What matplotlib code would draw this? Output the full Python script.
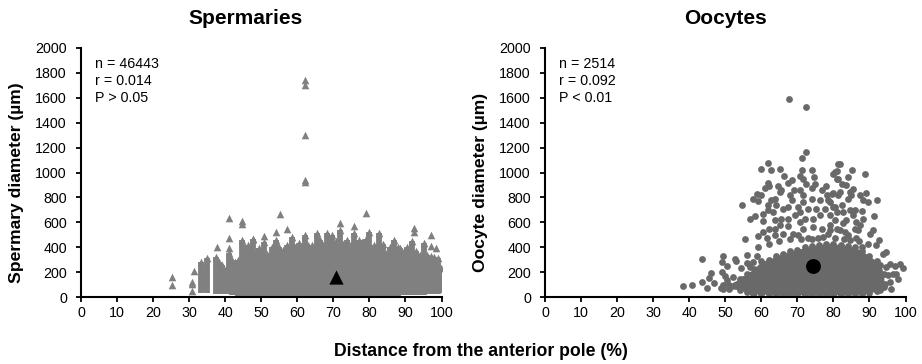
import matplotlib
matplotlib.use('Agg')
import matplotlib.pyplot as plt

plt.rcParams['font.family'] = ['Liberation Sans', 'DejaVu Sans']

# spermaries: dense columns of triangles
column_x = [33.2, 34, 34.9, 37.4, 38.2, 39, 40.2, 41.1, 42, 42.8, 43.6, 44.6, 45.4, 46.3, 47, 47.7, 48.6,
            49.5, 50.8, 51.5, 52.2, 53, 54.2, 55, 56, 57.1, 58.5, 59.4, 60.4, 61.3, 62.2, 63, 64, 65.5, 66.4,
            67.2, 68.2, 69, 69.6, 70.7, 71.9, 72.8, 73.8, 74.8, 75.8, 77, 78, 79, 79.8, 81.2, 82, 82.8, 83.8,
            84.9, 85.8, 86.9, 87.8, 88.6, 89.5, 90.5, 91.8, 93, 94, 95.1, 96, 97, 98, 99, 99.9]
column_top = [285, 230, 312, 320, 280, 260, 230, 355, 300, 285, 300, 460, 400, 420, 380, 465, 360,
              395, 445, 350, 299, 400, 460, 400, 380, 420, 486, 400, 433, 400, 499, 420, 420, 513, 459,
              420, 513, 440, 499, 450, 540, 430, 459, 420, 513, 459, 440, 470, 526, 419, 380, 513, 430,
              365, 400, 459, 400, 393, 370, 405, 453, 370, 340, 433, 340, 330, 320, 312, 232]
column_low = [35, 40, 35, 30, 25, 25, 25, 25, 15, 15, 10, 10, 10, 10, 10, 10, 10,
              10, 10, 10, 10, 10, 10, 10, 10, 10, 10, 10, 10, 10, 10, 10, 10, 10, 10,
              10, 10, 10, 10, 10, 10, 10, 10, 10, 10, 10, 10, 10, 10, 10, 10, 10, 10,
              10, 10, 10, 10, 15, 15, 15, 15, 15, 20, 20, 30, 30, 30, 30, 35]
sperm_x = [25.2, 25.2, 30.8, 30.8, 30.8, 31.4, 37.7, 41.1, 41.1, 41.1, 44.6, 44.6, 47.7, 50.8, 54.2, 55.2, 57.1,
           62.2, 62.2, 62.2, 62.2, 62.2, 71.9, 75.8, 79, 92.5, 92.5, 97, 97, 98.5]
sperm_y = [160, 96, 125, 110, 50, 213, 405, 638, 475, 395, 615, 590, 465, 490, 526, 667, 547,
           925, 940, 1300, 1700, 1740, 593, 571, 678, 553, 526, 499, 411, 393]
sperm_mean_x = [70.6]
sperm_mean_y = [163]

# oocytes: dense core outline
core_x = [51, 54, 56, 58, 60, 62, 64, 66, 68, 70, 72, 74, 76, 78, 80, 82, 84, 86, 88, 90, 92, 93, 94]
core_top = [100, 150, 190, 230, 290, 300, 330, 350, 370, 380, 400, 410, 420, 430, 430, 420, 410, 400, 370, 330, 290, 260, 190]
core_low = [70, 60, 40, 35, 25, 25, 20, 20, 20, 20, 20, 20, 20, 20, 20, 20, 25, 25, 30, 35, 50, 60, 80]

oocyte_x = [38.2, 40.8, 43.5, 43.5, 44.8, 45.4, 46.0, 46.9, 49.4, 49.1, 50.4, 49.2, 49.9, 48.8, 49.4, 50.5,
            52.7, 53, 55.9, 58.7, 54.3, 55.9, 57.7, 56.8, 52.2, 50.4, 54.1, 51.3, 49.4, 52.7, 55, 55, 57.6,
            98.6, 99.3, 97.1, 95.6, 94.7, 96.6, 98, 97.3, 95.2, 95.6, 96.1, 92.9, 94.3, 93.8, 94.7, 92.7, 91.8,
            89.6, 90.1, 91, 91.2, 92.1, 88.7, 81.8, 80.9, 79.9, 81.3, 84.1, 85.2, 82.5, 83.6, 85.5, 81.8, 84.6,
            81.3, 84.1, 85, 89, 87.5, 88.2, 89.6, 79.5, 79, 79.9, 82.5, 80.9, 82.7, 84.6, 86, 87.8, 85.5, 80.4,
            83.6, 82.7, 86.4, 88.1, 87.3, 85.9, 86.9, 81.8, 83.2, 84.1, 80.4, 84.6, 86.2, 79, 87.8,
            72.5, 71.3, 61.9, 59.8, 62.8, 65.3, 71.3, 74, 66.3, 70.7, 71.6, 74.7, 81.3, 80.4, 80.9, 68.4, 67.5,
            61.9, 61, 62.2, 64.7, 65.6, 72.5, 74.9, 74, 77.9, 76.7, 70.7, 69, 67.9, 65.2, 58.7, 59.8, 57.6, 59.1,
            54.7, 71.6, 78.1, 79.9, 62.8, 63.8, 61.9, 64.2, 61.9, 60.5, 58.2, 56.8, 60.5, 63.3, 67.5, 66.1, 68.4,
            70.2, 71.6, 74, 76.2, 78.5, 70.7, 73, 75.3, 77.6, 80.4, 79, 76.2, 74.4, 72.1, 69.3, 67.5, 65.6, 63.8,
            65.2, 67.5, 70.7, 71.6, 74.4, 76.7, 79, 80.9, 63.8, 62.2, 60.5, 59.1, 55.6, 66.1, 63.8, 68.8, 70.2,
            73, 75.8, 78.5, 61.5, 67.6, 72.5, 59, 62, 65, 68, 71, 74, 77, 83, 87]
oocyte_y = [88, 96, 304, 122, 78, 158, 194, 114, 330, 286, 248, 203, 168, 72, 96, 110,
            310, 290, 336, 330, 235, 272, 283, 242, 163, 136, 96, 82, 70, 96, 150, 85, 24,
            270, 235, 250, 270, 243, 190, 150, 184, 176, 122, 70, 82, 110, 350, 363, 456, 416,
            430, 510, 536, 649, 782, 990, 1070, 1012, 990, 950, 964, 1017, 910, 897, 870, 843, 843,
            816, 790, 816, 835, 816, 777, 763, 830, 763, 723, 737, 683, 683, 697, 702, 691, 657, 617,
            617, 595, 603, 630, 577, 550, 536, 536, 523, 497, 478, 456, 478, 536, 403,
            1164, 1119, 1076, 1031, 1017, 1025, 1017, 1017, 972, 969, 950, 964, 1070, 1004, 950, 937, 915,
            915, 878, 889, 891, 862, 910, 910, 878, 889, 862, 857, 857, 816, 843, 825, 816, 790, 771,
            737, 823, 817, 835, 777, 790, 737, 737, 702, 670, 649, 630, 611, 683, 723, 710, 777,
            723, 763, 790, 777, 777, 683, 710, 710, 710, 723, 657, 657, 630, 630, 657, 630, 630, 617,
            577, 569, 603, 550, 563, 550, 577, 550, 550, 545, 523, 491, 470, 510, 497, 510, 497,
            478, 478, 510, 478, 1588, 1524, 400, 430, 450, 470, 470, 470, 480, 470, 450]
oocyte_mean_x = [74.4]
oocyte_mean_y = [248]

x_ticks = list(range(0, 101, 10))
y_ticks = list(range(0, 2001, 200))


def setup_axes(ax, ylabel):
    ax.set_xlim(0, 100)
    ax.set_ylim(0, 2000)
    ax.set_xticks(x_ticks)
    ax.set_yticks(y_ticks)
    ax.tick_params(labelsize=10.3, length=3.6, width=1.3)
    ax.tick_params(axis='y', pad=6.5)
    ax.tick_params(axis='x', pad=3)
    ax.spines['top'].set_visible(False)
    ax.spines['right'].set_visible(False)
    ax.spines['left'].set_linewidth(1.5)
    ax.spines['bottom'].set_linewidth(1.5)
    ax.set_ylabel(ylabel, fontsize=12.6, fontweight='bold')
    ax.yaxis.set_label_coords(-0.157, 0.459)


fig = plt.figure(figsize=(9.22, 3.64), dpi=100)
ax1 = fig.add_axes([81 / 922, 1 - 297.3 / 364, 360.5 / 922, 249.6 / 364])
ax2 = fig.add_axes([545 / 922, 1 - 297.3 / 364, 360.5 / 922, 249.6 / 364])

grey1 = '#808080'
grey2 = '#696969'

# left panel
ax1.vlines(column_x, column_low, column_top, color=grey1, lw=4.2, zorder=2)
ax1.scatter(column_x, column_top, marker='^', s=30, color=grey1, linewidths=0, zorder=2)
ax1.scatter(sperm_x, sperm_y, marker='^', s=30, color=grey1, linewidths=0, zorder=2)
ax1.scatter(sperm_mean_x, sperm_mean_y, marker='^', s=105, color='black', linewidths=0, zorder=3)
setup_axes(ax1, 'Spermary diameter (µm)')
ax1.text(3.9, 1869, 'n = 46443', fontsize=10.3, va='center')
ax1.text(3.9, 1733, 'r = 0.014', fontsize=10.3, va='center')
ax1.text(3.9, 1597, 'P > 0.05', fontsize=10.3, va='center')

# right panel
ax2.fill_between(core_x, core_low, core_top, color=grey2, lw=0, zorder=2)
ax2.scatter(core_x, core_top, s=24, color=grey2, linewidths=0, zorder=2)
ax2.scatter(core_x, core_low, s=24, color=grey2, linewidths=0, zorder=2)
ax2.scatter(oocyte_x, oocyte_y, s=24, color=grey2, linewidths=0, zorder=2)
ax2.scatter(oocyte_mean_x, oocyte_mean_y, s=115, color='black', linewidths=0, zorder=3)
setup_axes(ax2, 'Oocyte diameter (µm)')
ax2.text(3.9, 1869, 'n = 2514', fontsize=10.3, va='center')
ax2.text(3.9, 1733, 'r = 0.092', fontsize=10.3, va='center')
ax2.text(3.9, 1597, 'P < 0.01', fontsize=10.3, va='center')

fig.text(246 / 922, 1 - 19 / 364, 'Spermaries', fontsize=15, fontweight='bold', ha='center', va='center')
fig.text(725 / 922, 1 - 19 / 364, 'Oocytes', fontsize=15, fontweight='bold', ha='center', va='center')
fig.text(481 / 922, 1 - 351 / 364, 'Distance from the anterior pole (%)', fontsize=12.7, fontweight='bold',
         ha='center', va='center')

fig.savefig('out.png', dpi=100)
